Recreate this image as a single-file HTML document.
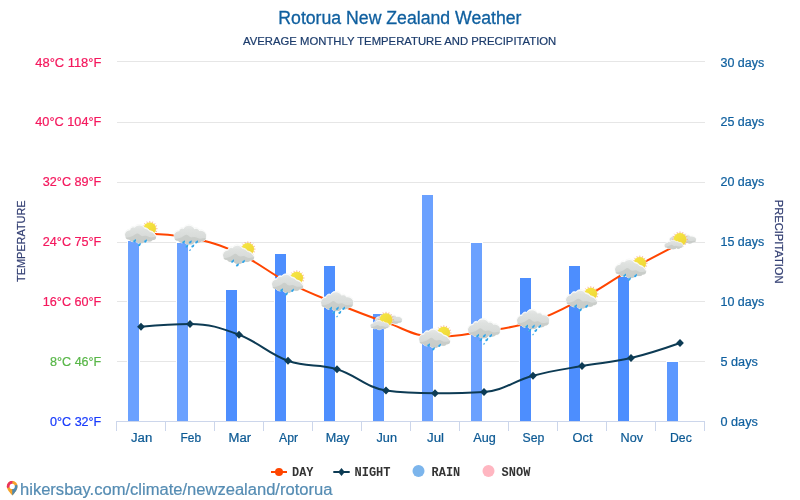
<!DOCTYPE html>
<html><head><meta charset="utf-8"><title>Rotorua New Zealand Weather</title>
<style>
html,body{margin:0;padding:0;background:#fff;}
body{width:800px;height:500px;overflow:hidden;position:relative;font-family:"Liberation Sans",sans-serif;}
svg{position:absolute;left:0;top:0;will-change:transform;}
text{font-family:"Liberation Sans",sans-serif;}
.mono{font-family:"Liberation Mono",monospace;font-weight:bold;}
</style></head><body>
<svg width="800" height="500" viewBox="0 0 800 500">
<defs>
<linearGradient id="cg" x1="0" y1="0" x2="0" y2="1"><stop offset="0" stop-color="#e6e8e7"/><stop offset="0.2" stop-color="#dee1df"/><stop offset="0.6" stop-color="#d8dbd9"/><stop offset="1" stop-color="#c9cdca"/></linearGradient>
<linearGradient id="sg" x1="0" y1="0" x2="1" y2="1"><stop offset="0" stop-color="#f6e744"/><stop offset="1" stop-color="#efd535"/></linearGradient>
<clipPath id="cc"><path d="M0.2 12 A5 5 0 0 1 5.2 5.6 A3 3 0 0 1 9.6 3.2 A6.05 6.05 0 0 1 20.4 3.4 A3.4 3.4 0 0 1 25.2 5.2 A5.6 5.6 0 0 1 31.9 12.5 A3.8 3.8 0 0 1 28 16.3 A4.6 4.6 0 0 1 21 16.7 A6.2 6.2 0 0 1 10.5 17.4 A4.6 4.6 0 0 1 4.2 16 A4 4 0 0 1 0.2 12 Z"/></clipPath>
<clipPath id="cca"><path d="M0.2 12 A5 5 0 0 1 5.2 5.6 A3 3 0 0 1 9.6 3.2 A5.9 5.9 0 0 1 19.4 3.9 A7 7 0 0 1 24.6 6.9 A7.5 7.5 0 0 1 30.1 10.6 A3.2 3.2 0 0 1 31.1 13.3 A3.2 3.2 0 0 1 27.6 16.3 A4.6 4.6 0 0 1 21 16.7 A6.2 6.2 0 0 1 10.5 17.4 A4.6 4.6 0 0 1 4.2 16 A4 4 0 0 1 0.2 12 Z"/></clipPath>
<g id="cloud">
<path d="M0.2 12 A5 5 0 0 1 5.2 5.6 A3 3 0 0 1 9.6 3.2 A6.05 6.05 0 0 1 20.4 3.4 A3.4 3.4 0 0 1 25.2 5.2 A5.6 5.6 0 0 1 31.9 12.5 A3.8 3.8 0 0 1 28 16.3 A4.6 4.6 0 0 1 21 16.7 A6.2 6.2 0 0 1 10.5 17.4 A4.6 4.6 0 0 1 4.2 16 A4 4 0 0 1 0.2 12 Z" fill="#fbfcfb" stroke="#f4f5f4" stroke-width="0.9" paint-order="stroke"/>
<g clip-path="url(#cc)"><path d="M0.2 12 A5 5 0 0 1 5.2 5.6 A3 3 0 0 1 9.6 3.2 A6.05 6.05 0 0 1 20.4 3.4 A3.4 3.4 0 0 1 25.2 5.2 A5.6 5.6 0 0 1 31.9 12.5 A3.8 3.8 0 0 1 28 16.3 A4.6 4.6 0 0 1 21 16.7 A6.2 6.2 0 0 1 10.5 17.4 A4.6 4.6 0 0 1 4.2 16 A4 4 0 0 1 0.2 12 Z" transform="translate(0 0.95)" fill="url(#cg)"/><path d="M-1 14 Q2 14.5 5 13.5 Q8 12.5 10 11 Q12.5 9 14 10.5 Q16 13 18 12.5 Q21 11.5 23 13 Q26 14.5 29 13.5 L33 13 L33 20 L-1 20 Z" fill="#c5c9c6" fill-opacity="0.75"/></g>
</g>
<g id="cloudA">
<path d="M0.2 12 A5 5 0 0 1 5.2 5.6 A3 3 0 0 1 9.6 3.2 A5.9 5.9 0 0 1 19.4 3.9 A7 7 0 0 1 24.6 6.9 A7.5 7.5 0 0 1 30.1 10.6 A3.2 3.2 0 0 1 31.1 13.3 A3.2 3.2 0 0 1 27.6 16.3 A4.6 4.6 0 0 1 21 16.7 A6.2 6.2 0 0 1 10.5 17.4 A4.6 4.6 0 0 1 4.2 16 A4 4 0 0 1 0.2 12 Z" fill="#fbfcfb" stroke="#f4f5f4" stroke-width="0.9" paint-order="stroke"/>
<g clip-path="url(#cca)"><path d="M0.2 12 A5 5 0 0 1 5.2 5.6 A3 3 0 0 1 9.6 3.2 A5.9 5.9 0 0 1 19.4 3.9 A7 7 0 0 1 24.6 6.9 A7.5 7.5 0 0 1 30.1 10.6 A3.2 3.2 0 0 1 31.1 13.3 A3.2 3.2 0 0 1 27.6 16.3 A4.6 4.6 0 0 1 21 16.7 A6.2 6.2 0 0 1 10.5 17.4 A4.6 4.6 0 0 1 4.2 16 A4 4 0 0 1 0.2 12 Z" transform="translate(0 0.95)" fill="url(#cg)"/><path d="M-1 14 Q2 14.5 5 13.5 Q8 12.5 10 11 Q12.5 9 14 10.5 Q16 13 18 12.5 Q21 11.5 23 13 Q26 14.5 29 13.5 L33 13 L33 20 L-1 20 Z" fill="#c5c9c6" fill-opacity="0.75"/></g>
</g>
<g id="sun">
<g stroke="#f59a80" stroke-width="0.75" stroke-linecap="round">
<path d="M0 -7.3V7.3M-7.3 0H7.3M-5.16 -5.16L5.16 5.16M-5.16 5.16L5.16 -5.16M-2.79 -6.74L2.79 6.74M-6.74 -2.79L6.74 2.79M-6.74 2.79L6.74 -2.79M-2.79 6.74L2.79 -6.74"/>
</g>
<circle r="6.7" fill="#fbe9a8" fill-opacity="0.55"/>
<circle r="6.2" fill="url(#sg)"/>
</g>
<g id="drop"><g transform="scale(0.88)"><path d="M1.9 -1.9 C2.2 -0.6 2.1 0.6 1.2 1.5 C0.5 2.2 -0.7 2.1 -1.1 1.3 C-1.5 0.4 -0.6 -0.3 0.3 -0.9 C1 -1.3 1.5 -1.6 1.9 -1.9 Z" fill="#2ea3e6"/><path d="M-0.9 0.9 C-1.1 0.2 -0.3 -0.4 0.5 -0.9" stroke="#8fd0f3" stroke-width="0.5" fill="none"/></g></g>
<g id="icA"><use href="#sun" x="24.8" y="10.7"/><use href="#cloudA" y="5.6"/><use href="#drop" x="9.2" y="22.6"/><use href="#drop" x="20.1" y="22.9"/><use href="#drop" x="14" y="26.4"/></g>
<g id="icB"><use href="#cloud" y="3.6"/><use href="#drop" x="9.2" y="20.6"/><use href="#drop" x="15.9" y="20.6"/><use href="#drop" x="22.2" y="20.6"/><use href="#drop" x="12.4" y="24.6"/><use href="#drop" x="18.4" y="24.6"/><use href="#drop" transform="translate(15.8 28.8) scale(0.55)"/></g>
<g id="icC"><use href="#cloud" transform="translate(5.4 6.4) scale(0.83 0.58)"/><use href="#sun" transform="translate(16 12.8) scale(1.03)"/><use href="#cloud" transform="translate(0.3 13.3) scale(0.58 0.48)"/></g>
<clipPath id="pc"><path d="M5.4 0 A5.4 5.4 0 0 1 10.8 5.4 C10.8 9 7.8 11.8 5.6 14.7 C3.4 11.8 0 9 0 5.4 A5.4 5.4 0 0 1 5.4 0 Z"/></clipPath>
<g id="pin"><g clip-path="url(#pc)"><rect x="-1" y="-1" width="13" height="17" fill="#f6a42c"/><path d="M5.4 5.4 L-2 8.2 L-2 -2 L5.8 -2 Z" fill="#e9325f"/><path d="M5.4 5.4 L12 3.6 L12 16 L5.5 16 Z" fill="#4f88ae"/></g><circle cx="5.4" cy="5.6" r="2.6" fill="#fff"/></g>
</defs>

<rect width="800" height="500" fill="#ffffff"/>
<path d="M 117 61.5 L 705 61.5" stroke="#e6e6e6" stroke-width="1" fill="none"/>
<path d="M 117 122.5 L 705 122.5" stroke="#e6e6e6" stroke-width="1" fill="none"/>
<path d="M 117 182.5 L 705 182.5" stroke="#e6e6e6" stroke-width="1" fill="none"/>
<path d="M 117 242.5 L 705 242.5" stroke="#e6e6e6" stroke-width="1" fill="none"/>
<path d="M 117 301.5 L 705 301.5" stroke="#e6e6e6" stroke-width="1" fill="none"/>
<path d="M 117 361.5 L 705 361.5" stroke="#e6e6e6" stroke-width="1" fill="none"/>
<rect x="127.5" y="240.5" width="12" height="181.0" fill="#6ba1ff" stroke="#ffffff" stroke-width="1"/>
<rect x="176.5" y="242.5" width="12" height="179.0" fill="#6ba1ff" stroke="#ffffff" stroke-width="1"/>
<rect x="225.5" y="289.5" width="12" height="132.0" fill="#4d8efe" stroke="#ffffff" stroke-width="1"/>
<rect x="274.5" y="253.5" width="12" height="168.0" fill="#4d8efe" stroke="#ffffff" stroke-width="1"/>
<rect x="323.5" y="265.5" width="12" height="156.0" fill="#4d8efe" stroke="#ffffff" stroke-width="1"/>
<rect x="372.5" y="313.5" width="12" height="108.0" fill="#5c98ff" stroke="#ffffff" stroke-width="1"/>
<rect x="421.5" y="194.5" width="12" height="227.0" fill="#6ba1ff" stroke="#ffffff" stroke-width="1"/>
<rect x="470.5" y="242.5" width="12" height="179.0" fill="#6ba1ff" stroke="#ffffff" stroke-width="1"/>
<rect x="519.5" y="277.5" width="12" height="144.0" fill="#4d8efe" stroke="#ffffff" stroke-width="1"/>
<rect x="568.5" y="265.5" width="12" height="156.0" fill="#4d8efe" stroke="#ffffff" stroke-width="1"/>
<rect x="617.5" y="276.5" width="12" height="145.0" fill="#4d8efe" stroke="#ffffff" stroke-width="1"/>
<rect x="666.5" y="361.5" width="12" height="60.0" fill="#5c98ff" stroke="#ffffff" stroke-width="1"/>
<path d="M 116 421.5 L 705 421.5" stroke="#ccd6eb" stroke-width="1" fill="none"/>
<path d="M 116.5 421 L 116.5 431" stroke="#ccd6eb" stroke-width="1" fill="none"/>
<path d="M 165.5 421 L 165.5 431" stroke="#ccd6eb" stroke-width="1" fill="none"/>
<path d="M 214.5 421 L 214.5 431" stroke="#ccd6eb" stroke-width="1" fill="none"/>
<path d="M 263.5 421 L 263.5 431" stroke="#ccd6eb" stroke-width="1" fill="none"/>
<path d="M 312.5 421 L 312.5 431" stroke="#ccd6eb" stroke-width="1" fill="none"/>
<path d="M 361.5 421 L 361.5 431" stroke="#ccd6eb" stroke-width="1" fill="none"/>
<path d="M 410.5 421 L 410.5 431" stroke="#ccd6eb" stroke-width="1" fill="none"/>
<path d="M 459.5 421 L 459.5 431" stroke="#ccd6eb" stroke-width="1" fill="none"/>
<path d="M 508.5 421 L 508.5 431" stroke="#ccd6eb" stroke-width="1" fill="none"/>
<path d="M 557.5 421 L 557.5 431" stroke="#ccd6eb" stroke-width="1" fill="none"/>
<path d="M 606.5 421 L 606.5 431" stroke="#ccd6eb" stroke-width="1" fill="none"/>
<path d="M 655.5 421 L 655.5 431" stroke="#ccd6eb" stroke-width="1" fill="none"/>
<path d="M 704.5 421 L 704.5 431" stroke="#ccd6eb" stroke-width="1" fill="none"/>
<path d="M 141.00 233.40 C 141.00 233.40 170.40 233.78 190.00 237.80 C 209.60 241.82 219.40 244.58 239.00 253.50 C 258.60 262.42 268.40 272.34 288.00 282.40 C 307.60 292.46 317.40 295.80 337.00 303.80 C 356.60 311.80 366.40 315.76 386.00 322.40 C 405.60 329.04 415.40 337.00 435.00 337.00 C 454.60 337.00 464.40 334.40 484.00 331.30 C 503.60 328.20 513.40 328.00 533.00 321.50 C 552.60 315.00 562.40 309.22 582.00 298.80 C 601.60 288.38 611.40 280.42 631.00 269.40 C 650.60 258.38 680.00 243.70 680.00 243.70" stroke="#ff4500" stroke-width="2" fill="none" stroke-linejoin="round" stroke-linecap="round"/>
<path d="M 141.00 326.75 C 141.00 326.75 170.40 324.00 190.00 324.00 C 209.60 324.00 219.40 327.40 239.00 334.75 C 258.60 342.10 268.40 353.85 288.00 360.75 C 307.60 367.65 317.40 363.30 337.00 369.25 C 356.60 375.20 366.40 387.75 386.00 390.50 C 405.60 393.25 415.40 393.25 435.00 393.25 C 454.60 393.25 464.40 393.25 484.00 392.00 C 503.60 390.75 513.40 380.95 533.00 375.75 C 552.60 370.55 562.40 369.55 582.00 366.00 C 601.60 362.45 611.40 362.60 631.00 358.00 C 650.60 353.40 680.00 343.00 680.00 343.00" stroke="#0d3b54" stroke-width="2" fill="none" stroke-linejoin="round" stroke-linecap="round"/>
<path d="M 141.00 322.85 L 144.90 326.75 L 141.00 330.65 L 137.10 326.75 Z" fill="#0d3b54"/>
<path d="M 190.00 320.10 L 193.90 324.00 L 190.00 327.90 L 186.10 324.00 Z" fill="#0d3b54"/>
<path d="M 239.00 330.85 L 242.90 334.75 L 239.00 338.65 L 235.10 334.75 Z" fill="#0d3b54"/>
<path d="M 288.00 356.85 L 291.90 360.75 L 288.00 364.65 L 284.10 360.75 Z" fill="#0d3b54"/>
<path d="M 337.00 365.35 L 340.90 369.25 L 337.00 373.15 L 333.10 369.25 Z" fill="#0d3b54"/>
<path d="M 386.00 386.60 L 389.90 390.50 L 386.00 394.40 L 382.10 390.50 Z" fill="#0d3b54"/>
<path d="M 435.00 389.35 L 438.90 393.25 L 435.00 397.15 L 431.10 393.25 Z" fill="#0d3b54"/>
<path d="M 484.00 388.10 L 487.90 392.00 L 484.00 395.90 L 480.10 392.00 Z" fill="#0d3b54"/>
<path d="M 533.00 371.85 L 536.90 375.75 L 533.00 379.65 L 529.10 375.75 Z" fill="#0d3b54"/>
<path d="M 582.00 362.10 L 585.90 366.00 L 582.00 369.90 L 578.10 366.00 Z" fill="#0d3b54"/>
<path d="M 631.00 354.10 L 634.90 358.00 L 631.00 361.90 L 627.10 358.00 Z" fill="#0d3b54"/>
<path d="M 680.00 339.10 L 683.90 343.00 L 680.00 346.90 L 676.10 343.00 Z" fill="#0d3b54"/>
<use href="#icA" x="125.00" y="218.00"/>
<use href="#icB" x="174.00" y="221.20"/>
<use href="#icA" x="223.00" y="238.40"/>
<use href="#icA" x="272.00" y="267.30"/>
<use href="#icB" x="321.00" y="287.60"/>
<use href="#icC" x="370.00" y="306.95"/>
<use href="#icA" x="419.00" y="322.30"/>
<use href="#icB" x="468.00" y="314.90"/>
<use href="#icB" x="517.00" y="305.60"/>
<use href="#icA" x="566.00" y="283.20"/>
<use href="#icA" x="615.00" y="252.60"/>
<use href="#icC" x="664.00" y="226.60"/>
<text x="131.00" y="441.80" textLength="21.25" lengthAdjust="spacingAndGlyphs" font-size="12" fill="#0d5a94" stroke="#0d5a94" stroke-width="0.22">Jan</text>
<text x="180.50" y="441.80" textLength="20.50" lengthAdjust="spacingAndGlyphs" font-size="12" fill="#0d5a94" stroke="#0d5a94" stroke-width="0.22">Feb</text>
<text x="228.50" y="441.80" textLength="22.50" lengthAdjust="spacingAndGlyphs" font-size="12" fill="#0d5a94" stroke="#0d5a94" stroke-width="0.22">Mar</text>
<text x="279.00" y="441.80" textLength="19.00" lengthAdjust="spacingAndGlyphs" font-size="12" fill="#0d5a94" stroke="#0d5a94" stroke-width="0.22">Apr</text>
<text x="325.75" y="441.80" textLength="23.75" lengthAdjust="spacingAndGlyphs" font-size="12" fill="#0d5a94" stroke="#0d5a94" stroke-width="0.22">May</text>
<text x="376.50" y="441.80" textLength="20.50" lengthAdjust="spacingAndGlyphs" font-size="12" fill="#0d5a94" stroke="#0d5a94" stroke-width="0.22">Jun</text>
<text x="427.00" y="441.80" textLength="17.00" lengthAdjust="spacingAndGlyphs" font-size="12" fill="#0d5a94" stroke="#0d5a94" stroke-width="0.22">Jul</text>
<text x="473.25" y="441.80" textLength="22.50" lengthAdjust="spacingAndGlyphs" font-size="12" fill="#0d5a94" stroke="#0d5a94" stroke-width="0.22">Aug</text>
<text x="522.50" y="441.80" textLength="21.75" lengthAdjust="spacingAndGlyphs" font-size="12" fill="#0d5a94" stroke="#0d5a94" stroke-width="0.22">Sep</text>
<text x="572.50" y="441.80" textLength="20.00" lengthAdjust="spacingAndGlyphs" font-size="12" fill="#0d5a94" stroke="#0d5a94" stroke-width="0.22">Oct</text>
<text x="620.50" y="441.80" textLength="22.50" lengthAdjust="spacingAndGlyphs" font-size="12" fill="#0d5a94" stroke="#0d5a94" stroke-width="0.22">Nov</text>
<text x="670.00" y="441.80" textLength="21.75" lengthAdjust="spacingAndGlyphs" font-size="12" fill="#0d5a94" stroke="#0d5a94" stroke-width="0.22">Dec</text>
<text x="35.30" y="66.80" textLength="66.00" lengthAdjust="spacingAndGlyphs" font-size="12" fill="#f4195e" stroke="#f4195e" stroke-width="0.22">48°C 118°F</text>
<text x="35.30" y="126.20" textLength="66.00" lengthAdjust="spacingAndGlyphs" font-size="12" fill="#f4195e" stroke="#f4195e" stroke-width="0.22">40°C 104°F</text>
<text x="42.80" y="186.20" textLength="58.50" lengthAdjust="spacingAndGlyphs" font-size="12" fill="#f4195e" stroke="#f4195e" stroke-width="0.22">32°C 89°F</text>
<text x="42.80" y="246.20" textLength="58.50" lengthAdjust="spacingAndGlyphs" font-size="12" fill="#f4195e" stroke="#f4195e" stroke-width="0.22">24°C 75°F</text>
<text x="42.80" y="306.20" textLength="58.50" lengthAdjust="spacingAndGlyphs" font-size="12" fill="#f4195e" stroke="#f4195e" stroke-width="0.22">16°C 60°F</text>
<text x="50.10" y="366.20" textLength="51.20" lengthAdjust="spacingAndGlyphs" font-size="12" fill="#59b749" stroke="#59b749" stroke-width="0.22">8°C 46°F</text>
<text x="50.10" y="426.20" textLength="51.20" lengthAdjust="spacingAndGlyphs" font-size="12" fill="#1a3cfc" stroke="#1a3cfc" stroke-width="0.22">0°C 32°F</text>
<text x="720.50" y="66.80" textLength="43.70" lengthAdjust="spacingAndGlyphs" font-size="12" fill="#10609f" stroke="#10609f" stroke-width="0.22">30 days</text>
<text x="720.50" y="126.20" textLength="43.70" lengthAdjust="spacingAndGlyphs" font-size="12" fill="#10609f" stroke="#10609f" stroke-width="0.22">25 days</text>
<text x="720.50" y="186.20" textLength="43.70" lengthAdjust="spacingAndGlyphs" font-size="12" fill="#10609f" stroke="#10609f" stroke-width="0.22">20 days</text>
<text x="720.50" y="246.20" textLength="43.70" lengthAdjust="spacingAndGlyphs" font-size="12" fill="#10609f" stroke="#10609f" stroke-width="0.22">15 days</text>
<text x="720.50" y="306.20" textLength="43.70" lengthAdjust="spacingAndGlyphs" font-size="12" fill="#10609f" stroke="#10609f" stroke-width="0.22">10 days</text>
<text x="720.50" y="366.20" textLength="37.30" lengthAdjust="spacingAndGlyphs" font-size="12" fill="#10609f" stroke="#10609f" stroke-width="0.22">5 days</text>
<text x="720.50" y="426.20" textLength="37.30" lengthAdjust="spacingAndGlyphs" font-size="12" fill="#10609f" stroke="#10609f" stroke-width="0.22">0 days</text>
<text x="278.30" y="23.70" textLength="243.20" lengthAdjust="spacingAndGlyphs" font-size="17.6" fill="#0f5f9f" stroke="#0f5f9f" stroke-width="0.3">Rotorua New Zealand Weather</text>
<text x="243.10" y="45.25" textLength="313.20" lengthAdjust="spacingAndGlyphs" font-size="10.9" fill="#1c3c6c" stroke="#1c3c6c" stroke-width="0.2">AVERAGE MONTHLY TEMPERATURE AND PRECIPITATION</text>
<text x="-40.80" y="0.00" textLength="81.60" lengthAdjust="spacingAndGlyphs" font-size="11.7" fill="#333f73" transform="translate(25.2 241.2) rotate(-90)" stroke="#333f73" stroke-width="0.22">TEMPERATURE</text>
<text x="-41.95" y="0.00" textLength="83.90" lengthAdjust="spacingAndGlyphs" font-size="11.7" fill="#333f73" transform="translate(774.8 241.65) rotate(90)" stroke="#333f73" stroke-width="0.22">PRECIPITATION</text>
<path d="M 271 472 L 287 472" stroke="#ff4500" stroke-width="2"/><circle cx="279" cy="472" r="4" fill="#ff4500"/>
<text class="mono" x="292.1" y="475.8" font-size="12.6" textLength="21.4" lengthAdjust="spacingAndGlyphs" fill="#333333">DAY</text>
<path d="M 333.3 472 L 349.7 472" stroke="#0d3b54" stroke-width="2"/><path d="M 341.5 468 L 344.8 472 L 341.5 476 L 338.2 472 Z" fill="#0d3b54"/>
<text class="mono" x="354.5" y="475.8" font-size="12.6" textLength="36.0" lengthAdjust="spacingAndGlyphs" fill="#333333">NIGHT</text>
<circle cx="418.5" cy="471" r="6" fill="#7cb5ec"/>
<text class="mono" x="431.6" y="475.8" font-size="12.6" textLength="28.6" lengthAdjust="spacingAndGlyphs" fill="#333333">RAIN</text>
<circle cx="488.5" cy="471" r="6" fill="#ffb6c1"/>
<text class="mono" x="501.6" y="475.8" font-size="12.6" textLength="28.8" lengthAdjust="spacingAndGlyphs" fill="#333333">SNOW</text>
<use href="#pin" x="6.8" y="480.8"/>
<text x="20.00" y="494.60" textLength="312.40" lengthAdjust="spacingAndGlyphs" font-size="16" fill="#558cb3" stroke="#558cb3" stroke-width="0.2">hikersbay.com/climate/newzealand/rotorua</text>
</svg></body></html>
